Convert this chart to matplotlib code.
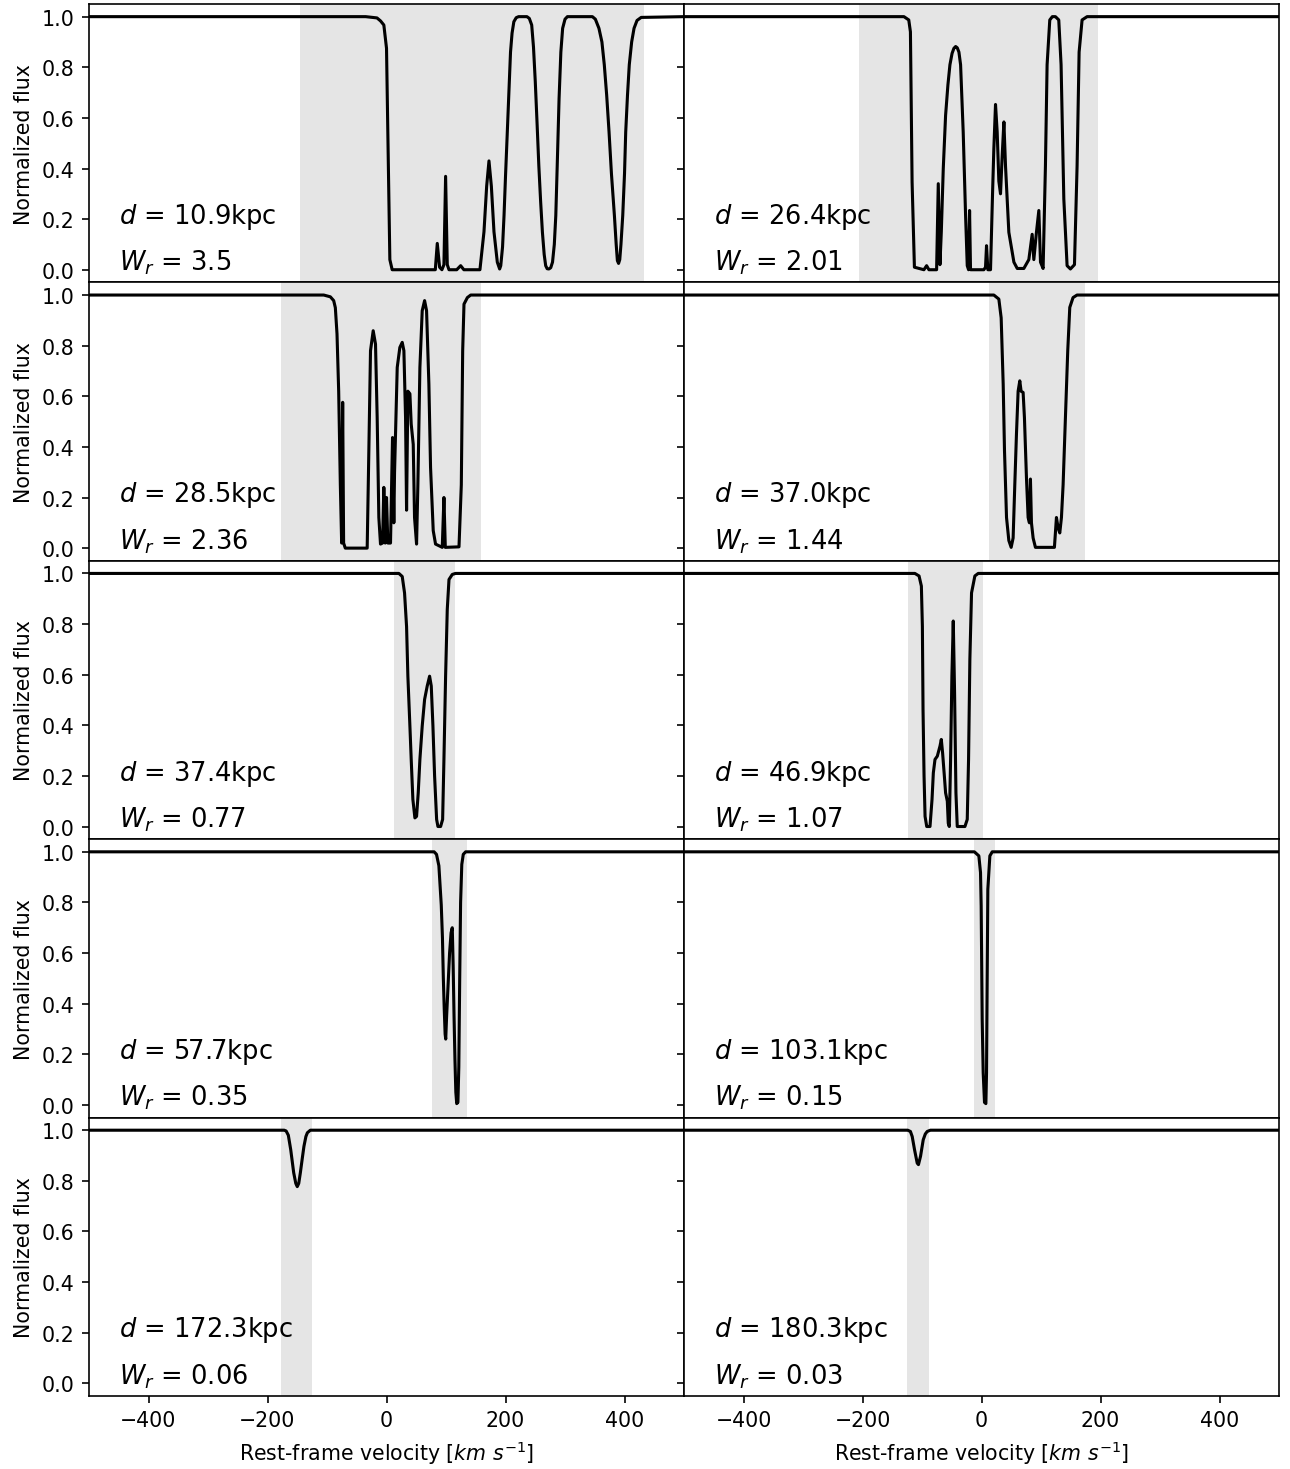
import matplotlib
matplotlib.use('Agg')
import matplotlib.pyplot as plt

# impact parameter and rest-frame equivalent width labels, panel order row by row
d_vals = ['10.9', '26.4', '28.5', '37.0', '37.4', '46.9', '57.7', '103.1', '172.3', '180.3']
w_vals = ['3.5', '2.01', '2.36', '1.44', '0.77', '1.07', '0.35', '0.15', '0.06', '0.03']

# velocity window used for W_r (grey band)
span_lo = [-145, -206, -178, 12, 12, -124, 77, -13, -178, -126]
span_hi = [433, 195, 158, 174, 115, 3, 136, 22, -126, -89]

# spectra (velocity km/s, normalized flux)
v_a = [-500, -35, -16, -10, -4.5, 0, 2.2, 5.6, 9.5, 82, 85.3, 89.2, 93.1, 96.5, 99.3, 102.1, 105,
       118, 124.6, 130, 157, 163.8, 168.3, 172.2, 176.2, 180.6, 186.2, 190.1, 192, 195, 197.5, 200, 203,
       206, 208.4, 211, 214, 218, 222, 236, 240, 244, 247, 250, 253, 256, 259, 262, 265, 267.5, 270,
       273, 276, 279, 282, 284.5, 287, 290, 293, 296, 300, 304, 346, 351, 357, 362, 366, 370, 374,
       378, 383, 386, 388, 390, 392, 394, 397, 400, 402, 405, 408, 412, 416, 421, 428, 500]
f_a = [1.0, 1.0, 0.995, 0.983, 0.967, 0.875, 0.544, 0.04, 0.0, 0.0, 0.104, 0.01, 0.0, 0.02, 0.369, 0.02, 0.0,
       0.0, 0.016, 0.0, 0.0, 0.15, 0.33, 0.43, 0.33, 0.15, 0.03, 0.003, 0.016, 0.09, 0.214, 0.37, 0.544,
       0.72, 0.86, 0.935, 0.98, 0.996, 1.0, 1.0, 0.993, 0.967, 0.88, 0.744, 0.58, 0.41, 0.27, 0.148, 0.06, 0.016, 0.004,
       0.003, 0.008, 0.03, 0.1, 0.214, 0.42, 0.676, 0.86, 0.954, 0.99, 1.0, 1.0, 0.99, 0.954, 0.9, 0.81, 0.69, 0.544,
       0.38, 0.214, 0.1, 0.036, 0.025, 0.04, 0.1, 0.214, 0.38, 0.544, 0.69, 0.81, 0.9, 0.954, 0.985, 0.997, 1.0]

v_b = [-500, -130.4, -122.3, -119.5, -116.7, -112.8, -96.8, -92.3, -88.4, -75.5, -72.7, -69.9, -67.6, -64.3,
       -60.4, -56.5, -53.1, -49.5, -46.4, -43.5, -40.8, -38, -35.2, -30.8, -26.8, -24, -21.8, -20.1, -18.5,
       3.9, 6.7, 8.4, 10.6, 15.1,
       18.5, 20.7, 23.5, 26.3, 29.1, 31.9, 34.7, 37.6, 40.3, 45.9, 54.4, 60, 71.1, 79.5, 85.1, 87.9, 92.3,
       96.3, 99.1, 103.5, 107.4, 110.2, 114.7, 119, 124.2, 129.8, 133.7, 138.3, 143.8, 149.4, 156.2, 160.6, 164,
       169, 177.4, 500]
f_b = [1.0, 1.0, 0.987, 0.94, 0.346, 0.01, 0.0, 0.016, 0.0, 0.0, 0.34, 0.02, 0.15, 0.4,
       0.61, 0.73, 0.81, 0.855, 0.875, 0.882, 0.877, 0.86, 0.81, 0.544, 0.214, 0.016, 0.0, 0.234, 0.0,
       0.0, 0.01, 0.095, 0.0, 0.0,
       0.3, 0.478, 0.653, 0.544, 0.35, 0.3, 0.45, 0.584, 0.41, 0.148, 0.03, 0.005, 0.005, 0.04, 0.14, 0.04, 0.148,
       0.234, 0.03, 0.005, 0.41, 0.81, 0.987, 1.0, 1.0, 0.987, 0.81, 0.28, 0.016, 0.003, 0.02, 0.41, 0.86,
       0.987, 1.0, 1.0]

v_c = [-500, -105.5, -94.4, -88.8, -86, -83.2, -80.4, -77.6, -75.4, -73.7, -72.1, -69.3, -32.5, -29.7,
       -26.9, -22.4, -18.5, -15.7, -12.9, -10.1, -6.7, -4.5, -2.2, 0, 2.2, 6.7, 10.1, 12.3, 13.5, 18, 22.4,
       26.4, 29.2, 32, 33.7, 35.9, 39.3, 41.5, 44.9, 47.1, 50.5, 52.7, 56.1, 60, 64, 67.3, 71.2, 74, 78.5,
       82.4, 93.7, 96.5, 98.8, 121.8, 125.7, 128, 130.2, 135.9, 141.5, 500]
f_c = [1.0, 1.0, 0.993, 0.978, 0.95, 0.846, 0.62, 0.25, 0.02, 0.576, 0.02, 0.0, 0.0, 0.385,
       0.78, 0.859, 0.806, 0.516, 0.121, 0.016, 0.02, 0.24, 0.02, 0.2, 0.02, 0.02, 0.437, 0.1, 0.3, 0.714, 0.793,
       0.813, 0.78, 0.516, 0.15, 0.62, 0.61, 0.49, 0.41, 0.121, 0.016, 0.25, 0.714, 0.938, 0.978, 0.938, 0.648, 0.319, 0.069,
       0.016, 0.003, 0.2, 0.003, 0.005, 0.25, 0.78, 0.964, 0.99, 1.0, 1.0]

v_d = [-500, 20.7, 29.1, 33, 36.4, 38.6, 42, 45.9, 49.8, 53.1, 55.9, 58.7, 61.5, 64.3, 66.5, 69.9, 72.1,
       75.5, 78.3, 80.5, 82.2, 83.9, 86.7, 90.6, 122.5, 125.9, 128.7, 131.5, 134.3, 137.1, 141, 144.9,
       148.3, 153.8, 160.5, 500]
f_d = [1.0, 1.0, 0.984, 0.91, 0.648, 0.385, 0.121, 0.03, 0.003, 0.04, 0.25, 0.45, 0.62, 0.661, 0.62, 0.615, 0.516,
       0.279, 0.121, 0.1, 0.273, 0.1, 0.04, 0.003, 0.003, 0.121, 0.08, 0.06, 0.121, 0.25, 0.516, 0.78,
       0.951, 0.99, 1.0, 1.0]

v_e = [-500, 20.8, 26.4, 30.3, 33.7, 35.9, 39.3, 41.5, 44.3, 47.7, 50.5, 53.3, 56.1, 60, 64, 68.4, 72.4,
       75.2, 78, 80.8, 84.2, 86.4, 90.9, 94.3, 96.5, 99.3, 102.1, 105, 110.5, 116, 500]
f_e = [1.0, 1.0, 0.988, 0.923, 0.79, 0.594, 0.397, 0.265, 0.107, 0.034, 0.04, 0.133, 0.265, 0.397, 0.502, 0.555, 0.594,
       0.555, 0.397, 0.2, 0.028, 0.0, 0.0, 0.028, 0.265, 0.594, 0.858, 0.976, 0.996, 1.0, 1.0]

v_f = [-500, -112, -105, -101.1, -99.4, -98.3, -96.6, -94.9, -92.1, -86.6, -83.2, -81, -78.2, -74.3, -69.8,
       -67.6, -65.4, -62.5, -60.4, -57.5, -55.9, -54.2, -52, -49.8, -47.5, -45.3, -43, -40.8, -27.9, -24,
       -21.8, -19.6, -16.8, -11.2, -5.6, 500]
f_f = [1.0, 1.0, 0.99, 0.95, 0.79, 0.46, 0.2, 0.04, 0.0, 0.0, 0.107, 0.212, 0.265, 0.278, 0.318,
       0.344, 0.29, 0.2, 0.133, 0.1, 0.013, 0.0, 0.265, 0.594, 0.812, 0.528, 0.133, 0.0, 0.0, 0.028,
       0.265, 0.66, 0.923, 0.99, 1.0, 1.0]

v_g = [-500, 80, 84, 88, 92, 94, 95.5, 97, 98.5, 99.5, 101, 103, 106, 108.5, 110.5, 112, 113.5, 115,
       116.5, 118, 120, 121.5, 123, 124.5, 126.5, 129, 133, 500]
f_g = [1.0, 1.0, 0.99, 0.945, 0.79, 0.66, 0.5, 0.38, 0.28, 0.26, 0.35, 0.45, 0.6, 0.68, 0.7, 0.55, 0.35, 0.18,
       0.05, 0.005, 0.01, 0.15, 0.5, 0.8, 0.95, 0.99, 1.0, 1.0]

v_h = [-500, -12, -4.5, -1.7, -0.6, 1.1, 2.8, 5, 7.3, 8.4, 9.5, 10.6, 14, 18, 500]
f_h = [1.0, 1.0, 0.984, 0.918, 0.786, 0.338, 0.127, 0.01, 0.005, 0.127, 0.5, 0.852, 0.984, 1.0, 1.0]

v_i = [-500, -172, -168.7, -165, -161, -156, -152.5, -150, -147.5, -144.8, -141.5, -138.8, -135.5, -133, -128, 500]
f_i = [1.0, 1.0, 0.997, 0.98, 0.923, 0.832, 0.79, 0.777, 0.79, 0.832, 0.89, 0.936, 0.975, 0.99, 1.0, 1.0]

v_j = [-500, -124, -119.5, -116.5, -112.6, -108.1, -106, -102.5, -98, -94.5, -91.3, -86, 500]
f_j = [1.0, 1.0, 0.995, 0.975, 0.923, 0.87, 0.864, 0.897, 0.962, 0.985, 0.995, 1.0, 1.0]

vels = [v_a, v_b, v_c, v_d, v_e, v_f, v_g, v_h, v_i, v_j]
fluxes = [f_a, f_b, f_c, f_d, f_e, f_f, f_g, f_h, f_i, f_j]

fig, axes = plt.subplots(5, 2, sharex=True, sharey=True, figsize=(1290/148., 1470/148.), dpi=148)
plt.subplots_adjust(left=0.069, right=0.9915, top=0.9966, bottom=0.0497, hspace=0, wspace=0)

for i, ax in enumerate(axes.flatten()):
    ax.axvspan(span_lo[i], span_hi[i], color='grey', alpha=0.2, lw=0)
    ax.plot(vels[i], fluxes[i], color='k', lw=1.5)
    ax.text(-450, 0.185, r'$d$ = ' + d_vals[i] + 'kpc', fontsize=12.5)
    ax.text(-450, 0.0, r'$W_r$ = ' + w_vals[i], fontsize=12.5)
    if i % 2 == 0:
        ax.set_ylabel('Normalized flux')
    if i >= 8:
        ax.set_xlabel(r'Rest-frame velocity [$km\ s^{-1}$]')

ax.set_xlim(-500, 500)
ax.set_ylim(-0.05, 1.05)
ax.set_xticks([-400, -200, 0, 200, 400])
ax.set_yticks([0.0, 0.2, 0.4, 0.6, 0.8, 1.0])

plt.savefig('out.png', dpi=148)
